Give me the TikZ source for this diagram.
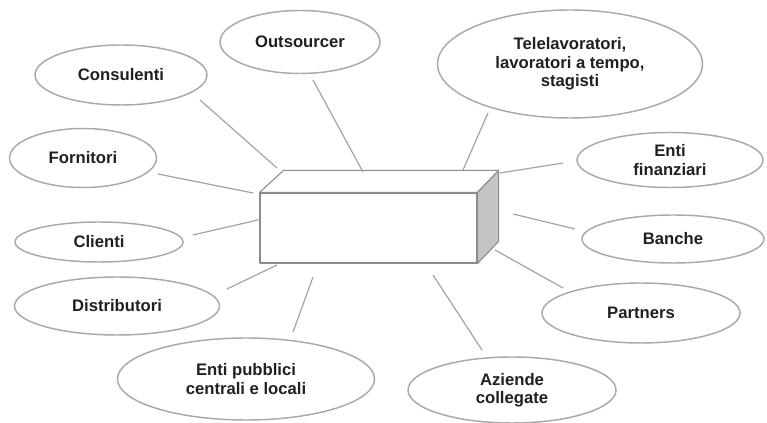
\documentclass[tikz,border=0pt]{standalone}
\usepackage{fontspec}
\setmainfont{Liberation Sans}
\usetikzlibrary{shapes.geometric}
\definecolor{edgegray}{HTML}{A9A9A9}
\definecolor{linegray}{HTML}{A4A4A4}
\definecolor{boxgray}{HTML}{8C8C8C}
\definecolor{sidegray}{HTML}{C4C4C4}
\definecolor{txt}{HTML}{202020}
\begin{document}
\begin{tikzpicture}[x=0.75pt,y=-0.75pt,
  ell/.style={ellipse, draw=edgegray, line width=1.1pt, fill=white, inner sep=0pt,
    align=center, text=txt, font=\fontsize{12.5}{13.8}\selectfont\bfseries},
  sz/.style 2 args={minimum width=#1*0.75pt, minimum height=#2*0.75pt},
  conn/.style={draw=linegray, line width=0.9pt},
  boxline/.style={draw=boxgray, line width=0.8pt, line join=round}]
\useasboundingbox (0,0) rectangle (767,423);
\fill[white] (0,0) rectangle (767,423);

% ellipses
\node[ell, sz={160}{63}] (outs) at (300,42) {Outsourcer};
\node[ell, sz={172}{60}] (cons) at (121,75) {Consulenti};
\node[ell, sz={147}{59}] (forn) at (83,158) {Fornitori};
\node[ell, sz={265}{108}] (tele) at (570,64) {Telelavoratori,\\lavoratori a tempo,\\stagisti};
\node[ell, sz={186}{55}] (fin) at (670,160) {Enti\\finanziari};
\node[ell, sz={168}{40}] (cli) at (99,242) {Clienti};
\node[ell, sz={205}{58}] (dist) at (117,306) {Distributori};
\node[ell, sz={257}{82}] (pub) at (246,379) {Enti pubblici\\centrali e locali};
\node[ell, sz={182}{48}] (ban) at (673,239) {Banche};
\node[ell, sz={198}{60}] (part) at (641,313) {Partners};
\node[ell, sz={208}{66}] (azi) at (512,390) {Aziende\\collegate};

% central box
\node[boxline, fill=white, sz={217}{70}, inner sep=0pt] (box) at (368.5,228) {};
\coordinate (tl) at ([shift={(24,-22)}]box.north west);
\coordinate (tr) at ([shift={(21,-22)}]box.north east);
\coordinate (br) at ([shift={(21,-22)}]box.south east);
\draw[boxline, fill=white] (box.north west) -- (tl) -- (tr) -- (box.north east) -- cycle;
\draw[boxline, fill=sidegray] (box.north east) -- (tr) -- (br) -- (box.south east) -- cycle;

% connector endpoints
\coordinate (c1a) at (200,100); \coordinate (c1b) at (277,168);
\coordinate (c2a) at (313,80);  \coordinate (c2b) at (363,172);
\coordinate (c3a) at (158,174); \coordinate (c3b) at (253,193);
\coordinate (c4a) at (488,113); \coordinate (c4b) at (463,170);
\coordinate (c5a) at (563,163); \coordinate (c5b) at (500,173);
\coordinate (c6a) at (193,235); \coordinate (c6b) at (258,220);
\coordinate (c7a) at (227,289); \coordinate (c7b) at (277,265);
\coordinate (c8a) at (293,332); \coordinate (c8b) at (313,277);
\coordinate (c9a) at (575,229); \coordinate (c9b) at (513,214);
\coordinate (c10a) at (563,288); \coordinate (c10b) at (495,250);
\coordinate (c11a) at (482,350); \coordinate (c11b) at (433,275);

\draw[conn] (c1a) -- (c1b);
\draw[conn] (c2a) -- (c2b);
\draw[conn] (c3a) -- (c3b);
\draw[conn] (c4a) -- (c4b);
\draw[conn] (c5a) -- (c5b);
\draw[conn] (c6a) -- (c6b);
\draw[conn] (c7a) -- (c7b);
\draw[conn] (c8a) -- (c8b);
\draw[conn] (c9a) -- (c9b);
\draw[conn] (c10a) -- (c10b);
\draw[conn] (c11a) -- (c11b);
\end{tikzpicture}
\end{document}
